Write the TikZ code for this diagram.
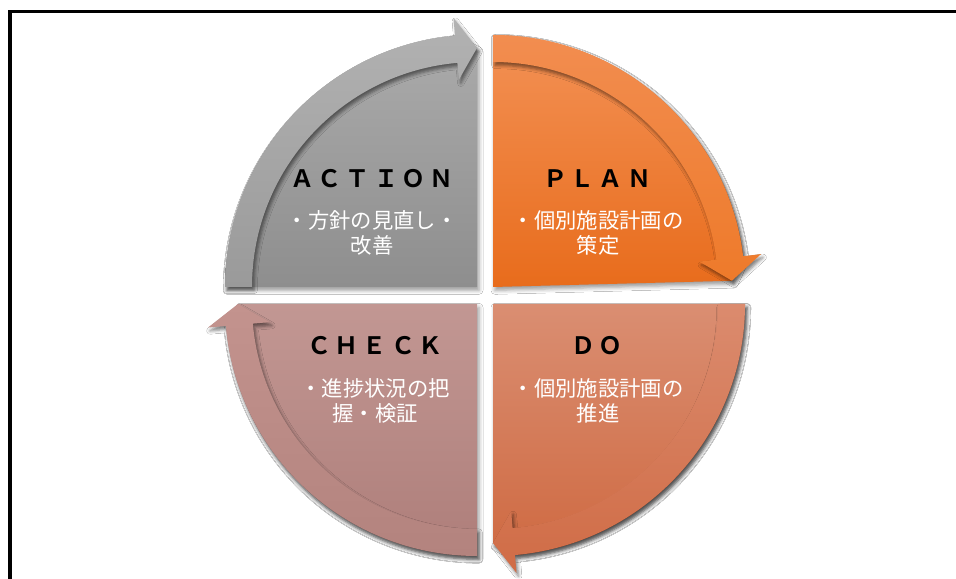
\documentclass[tikz,border=0pt]{standalone}
\usepackage{fontspec}
\newfontfamily\cjk{Noto Sans CJK JP}[BoldFont={Noto Sans CJK JP Bold}]
\usetikzlibrary{shadows.blur}
\definecolor{aPieT}{HTML}{ABABAB}
\definecolor{aPieB}{HTML}{8E8E8E}
\definecolor{aArrT}{HTML}{B2B2B2}
\definecolor{aArrB}{HTML}{9A9A9A}
\definecolor{pPieT}{HTML}{F39155}
\definecolor{pPieB}{HTML}{E86C1C}
\definecolor{pArrT}{HTML}{F28D50}
\definecolor{pArrB}{HTML}{EE7A2A}
\definecolor{dPieT}{HTML}{DA8E72}
\definecolor{dPieB}{HTML}{CF6A42}
\definecolor{dArrT}{HTML}{DB8B6E}
\definecolor{dArrB}{HTML}{D06C46}
\definecolor{cPieT}{HTML}{C29793}
\definecolor{cPieB}{HTML}{AE7E7A}
\definecolor{cArrT}{HTML}{C3938E}
\definecolor{cArrB}{HTML}{B3837E}
\newcommand\spl[1]{\makebox[21pt][c]{#1}}
% #1 corner, #2 start angle, #3 head base angle, #4 tip angle, #5-#8 colours
\newcommand\pdcaquad[8]{%
  \shade[pieshape, top color=#5, bottom color=#6] (#1) -- ([shift={(#1)}]#2:252)
    arc[start angle=#2, end angle=#3, radius=252] -- ([shift={(#1)}]#4:239) -- cycle;
  \shade[arrband, top color=#7, bottom color=#8] ([shift={(#1)}]#2:252)
    arc[start angle=#2, end angle=#3, radius=252] -- ([shift={(#1)}]#3:270)
    -- ([shift={(#1)}]#4:239) -- ([shift={(#1)}]#3:208) -- ([shift={(#1)}]#3:225)
    arc[start angle=#3, end angle=#2, radius=225] -- cycle;
}
\begin{document}
\begin{tikzpicture}[x=0.75pt, y=0.75pt,
  pieshape/.style={blur shadow={shadow xshift=1.5pt, shadow yshift=-2.5pt, shadow blur radius=3pt, shadow opacity=40}},
  arrband/.style={blur shadow={shadow xshift=1.5pt, shadow yshift=-2.5pt, shadow blur radius=2.5pt, shadow opacity=50}},
  ttl/.style={font=\cjk\bfseries\fontsize{18pt}{20pt}\selectfont, text=black, inner sep=0pt},
  bodytext/.style={font=\cjk\fontsize{16pt}{18.75pt}\selectfont, text=white, align=center, inner sep=0pt},
]
\useasboundingbox (0,0) rectangle (956,578);
\fill[white] (0,0) rectangle (956,578);
\begin{scope}
  \clip (0,0) rectangle (956,578);
  \draw[line width=2.5pt] (10,-20) -- (10,566.3) -- (990,566.3);
\end{scope}
\coordinate (cA) at (477,291);
\coordinate (cP) at (493,291);
\coordinate (cD) at (493,274);
\coordinate (cC) at (477,274);
\pdcaquad{cA}{180}{95}{90}{aPieT}{aPieB}{aArrT}{aArrB}
\pdcaquad{cP}{90}{7}{1.5}{pPieT}{pPieB}{pArrT}{pArrB}
\pdcaquad{cC}{270}{185}{180}{cPieT}{cPieB}{cArrT}{cArrB}
\pdcaquad{cD}{0}{-85}{-90}{dPieT}{dPieB}{dArrT}{dArrB}
\node[ttl] (tA) at (372,399) {\spl{Ａ}\spl{Ｃ}\spl{Ｔ}\spl{Ｉ}\spl{Ｏ}\spl{Ｎ}};
\node[ttl] (tP) at (597,399) {\spl{Ｐ}\spl{Ｌ}\spl{Ａ}\spl{Ｎ}};
\node[ttl] (tC) at (375,232) {\spl{Ｃ}\spl{Ｈ}\spl{Ｅ}\spl{Ｃ}\spl{Ｋ}};
\node[ttl] (tD) at (597,232) {\spl{Ｄ}\spl{Ｏ}};
\node[bodytext] (bA) at (372,345.5) {・方針の見直し・\\改善};
\node[bodytext] (bP) at (598,345.5) {・個別施設計画の\\策定};
\node[bodytext] (bC) at (375,177) {・進捗状況の把\\握・検証};
\node[bodytext] (bD) at (598,177) {・個別施設計画の\\推進};
\end{tikzpicture}
\end{document}
